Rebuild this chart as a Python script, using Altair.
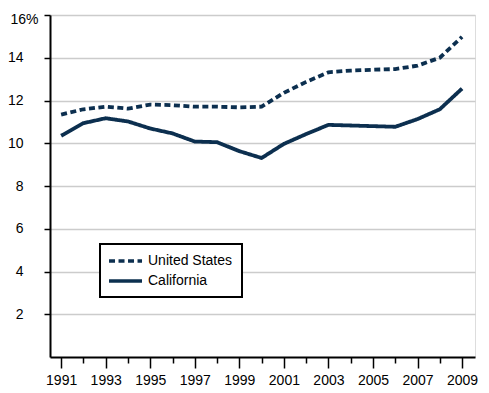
import altair as alt
import pandas as pd

years = list(range(1991, 2010))
us = [11.34, 11.59, 11.71, 11.62, 11.81, 11.78, 11.71, 11.71, 11.68, 11.71,
      12.36, 12.87, 13.32, 13.40, 13.44, 13.47, 13.63, 14.00, 14.98]
ca = [10.35, 10.94, 11.17, 11.02, 10.69, 10.46, 10.08, 10.05, 9.63, 9.31,
      9.97, 10.43, 10.86, 10.83, 10.80, 10.77, 11.13, 11.59, 12.56]
series = ["United States", "California"]
y_ticks = [2, 4, 6, 8, 10, 12, 14, 16]

df = pd.DataFrame({
    "year": years + years,
    "value": us + ca,
    "series": [series[0]] * len(years) + [series[1]] * len(years),
})

NAVY = "#0c2f4f"
FONT = "Liberation Sans"

chart = alt.Chart(df).mark_line(color=NAVY, strokeWidth=3.8).encode(
    x=alt.X(
        "year:Q",
        scale=alt.Scale(domain=[1990.5, 2009.58], nice=False, zero=False),
        axis=alt.Axis(
            values=years,
            format="d",
            labelExpr="datum.value % 2 == 1 ? datum.label : ''",
            tickSize={"condition": {"test": "datum.value % 2 == 0", "value": 6}, "value": 11},
            tickColor="black",
            tickWidth=1.5,
            domainColor="black",
            domainWidth=2,
            labelPadding=5,
            labelFlush=False,
            labelFontSize=14,
            labelColor="black",
            grid=False,
            title=None,
        ),
    ),
    y=alt.Y(
        "value:Q",
        scale=alt.Scale(domain=[0, 16], nice=False),
        axis=alt.Axis(
            values=y_ticks,
            labelExpr="datum.value == 16 ? '16%' : datum.label",
            labelAlign="right",
            labelPadding={"condition": {"test": "datum.value == 16", "value": 6}, "value": 21},
            labelOffset={"condition": {"test": "datum.value == 16", "value": 4}, "value": 0},
            tickSize=6,
            tickColor="black",
            tickWidth=1.5,
            domainColor="black",
            domainWidth=2,
            labelFontSize=14,
            labelColor="black",
            grid=True,
            gridColor="#cccccc",
            gridWidth=1.5,
            title=None,
        ),
    ),
    strokeDash=alt.StrokeDash(
        "series:N",
        scale=alt.Scale(domain=series, range=[[6, 3.5], [1, 0]]),
        legend=alt.Legend(
            title=None,
            orient="none",
            legendX=50,
            legendY=229,
            symbolType="M-1.33,0H4.17",
            symbolSize=144,
            symbolStrokeWidth=3.5,
            symbolStrokeColor=NAVY,
            labelFontSize=14,
            labelColor="black",
            padding=9,
            rowPadding=5,
            labelOffset=23,
            strokeColor="black",
            fillColor="white",
        ),
    ),
).properties(
    width=425,
    height=342,
    autosize=alt.AutoSizeParams(type="none"),
    padding={"left": 42, "top": 7, "right": 6, "bottom": 30},
).configure_view(stroke=None).configure(font=FONT).configure_legend(strokeWidth=2)

chart.save("out.html", embed_options={"renderer": "svg", "actions": False})
